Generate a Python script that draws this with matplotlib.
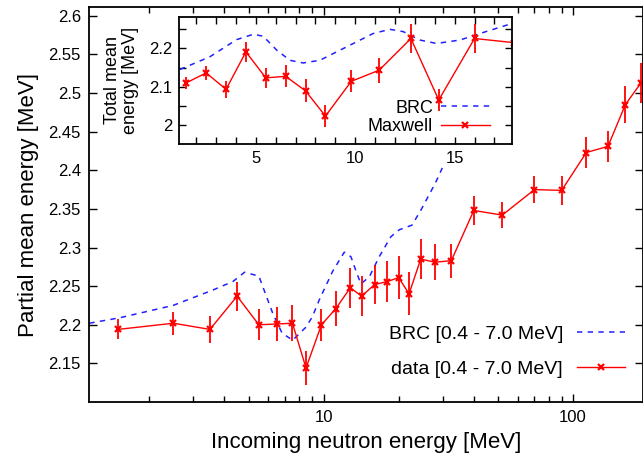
import numpy as np
import matplotlib.pyplot as plt
from matplotlib.lines import Line2D
from matplotlib.ticker import MultipleLocator, FixedLocator, NullFormatter

plt.rcParams['font.family'] = ['Liberation Sans', 'DejaVu Sans']

# measured points: incoming neutron energy [MeV]
energy = [1.5, 2.5, 3.5, 4.5, 5.5, 6.5, 7.5, 8.5, 9.8, 11.2, 12.8, 14.2, 16.0,
          18.0, 20.0, 22.0, 24.5, 28.0, 32.5, 40.0, 52.0, 70.0, 90.0, 113.0,
          138.0, 162.0, 187.0]
# partial mean energy [0.4 - 7.0 MeV]
partial_mean = [2.194, 2.202, 2.194, 2.237, 2.200, 2.201, 2.202, 2.144, 2.200,
                2.221, 2.248, 2.237, 2.252, 2.256, 2.261, 2.240, 2.285, 2.281,
                2.283, 2.348, 2.342, 2.375, 2.374, 2.423, 2.431, 2.485, 2.513]
partial_err = [0.013, 0.015, 0.017, 0.019, 0.020, 0.022, 0.023, 0.022, 0.021,
               0.023, 0.026, 0.026, 0.025, 0.027, 0.028, 0.028, 0.026, 0.023,
               0.022, 0.019, 0.017, 0.017, 0.019, 0.020, 0.020, 0.024, 0.026]

# BRC evaluation, partial mean energy
brc_energy = [1.15, 1.52, 2.49, 3.6, 4.33, 4.82, 5.5, 6.25, 6.82, 7.52, 8.5,
              9.0, 9.6, 10.86, 12.1, 12.87, 13.4, 14.1, 15.25, 16.7, 18.6,
              20.1, 22.6, 24.5, 28.0, 29.9]
brc_partial = [2.202, 2.209, 2.225, 2.245, 2.256, 2.268, 2.263, 2.215, 2.189,
               2.180, 2.197, 2.210, 2.232, 2.269, 2.294, 2.288, 2.272, 2.253,
               2.262, 2.288, 2.314, 2.323, 2.329, 2.348, 2.383, 2.403]

# inset: total mean energy (Maxwell fit)
total_energy = energy[:14]
total_mean = [2.110, 2.136, 2.093, 2.191, 2.123, 2.127, 2.089, 2.023, 2.114,
              2.143, 2.226, 2.065, 2.226, 2.215]
total_err = [0.016, 0.019, 0.023, 0.027, 0.027, 0.029, 0.030, 0.029, 0.029,
             0.033, 0.037, 0.029, 0.038, 0.035]

# BRC evaluation, total mean energy
brc_total_energy = [1.18, 2.68, 4.03, 4.87, 5.37, 6.04, 6.71, 7.38, 8.22, 9.56,
                    10.9, 11.74, 12.41, 13.25, 14.09, 15.27, 16.27, 17.87]
brc_total = [2.145, 2.178, 2.223, 2.237, 2.232, 2.196, 2.169, 2.162, 2.169,
             2.204, 2.239, 2.250, 2.244, 2.222, 2.213, 2.222, 2.239, 2.265]

red = '#ff0000'
blue = '#2020ff'

fig = plt.figure(figsize=(6.43, 4.59), dpi=100)
ax = fig.add_axes([0.1389, 0.1242, 0.8605, 0.8598])

ax.plot(brc_energy, brc_partial, color=blue, linewidth=1.1, dashes=(3.5, 3.5))
ax.errorbar(energy, partial_mean, yerr=partial_err, color=red, linewidth=1.0,
            elinewidth=1.3, marker='x', markersize=5, markeredgewidth=1.6,
            capsize=0)

ax.set_xscale('log')
ax.set_xlim(1.15, 190)
ax.set_ylim(2.1, 2.611)
ax.xaxis.set_major_locator(FixedLocator([10, 100]))
ax.xaxis.set_minor_locator(FixedLocator([2, 3, 4, 5, 6, 7, 8, 9, 20, 30, 40,
                                         50, 60, 70, 80, 90, 200]))
ax.xaxis.set_minor_formatter(NullFormatter())
ax.set_xticklabels(['10', '100'])
ax.set_yticks(np.arange(2.15, 2.601, 0.05))
ax.set_yticklabels(['2.15', '2.2', '2.25', '2.3', '2.35', '2.4', '2.45',
                    '2.5', '2.55', '2.6'])
ax.tick_params(which='both', direction='in', top=True, right=True,
               labelsize=12, width=1.0, pad=6)
ax.tick_params(which='major', length=6)
ax.tick_params(which='minor', length=4)
for s in ax.spines.values():
    s.set_linewidth(1.3)
ax.set_xlabel('Incoming neutron energy [MeV]', fontsize=16, labelpad=5)
ax.set_ylabel('Partial mean energy [MeV]', fontsize=16, labelpad=7)

h1 = [Line2D([], [], color=blue, linewidth=1.1, dashes=(3.5, 3.5)),
      Line2D([], [], color=red, linewidth=1.0, marker='x', markersize=5,
             markeredgewidth=1.6)]
ax.legend(h1, ['BRC [0.4 - 7.0 MeV]', 'data [0.4 - 7.0 MeV]'],
          loc='lower right', bbox_to_anchor=(1.0, 0.017), frameon=False,
          markerfirst=False, fontsize=14, handlelength=2.5,
          handletextpad=0.7, labelspacing=0.9)

# inset
axi = fig.add_axes([0.2789, 0.6863, 0.5169, 0.2773])
axi.plot(brc_total_energy, brc_total, color=blue, linewidth=1.1,
         dashes=(3.5, 3.5))
axi.errorbar(total_energy, total_mean, yerr=total_err, color=red,
             linewidth=1.0, elinewidth=1.3, marker='x', markersize=5,
             markeredgewidth=1.6, capsize=0)
axi.set_xlim(1.15, 17.87)
axi.set_ylim(1.95, 2.283)
axi.xaxis.set_major_locator(MultipleLocator(5))
axi.xaxis.set_minor_locator(MultipleLocator(1))
axi.yaxis.set_major_locator(FixedLocator([2.0, 2.1, 2.2]))
axi.yaxis.set_minor_locator(FixedLocator([2.05, 2.15, 2.25]))
axi.set_yticklabels(['2', '2.1', '2.2'])
axi.tick_params(which='both', direction='in', top=True, right=True,
                labelsize=12, width=1.0, pad=5)
axi.tick_params(which='major', length=5)
axi.tick_params(which='minor', length=5)
for s in axi.spines.values():
    s.set_linewidth(1.3)
axi.set_ylabel('Total mean\nenergy [MeV]', fontsize=13, labelpad=7,
               linespacing=1.1)

h2 = [Line2D([], [], color=blue, linewidth=1.1, dashes=(3.5, 3.5)),
      Line2D([], [], color=red, linewidth=1.0, marker='x', markersize=5,
             markeredgewidth=1.6)]
axi.legend(h2, ['BRC', 'Maxwell'], loc='lower right',
           bbox_to_anchor=(0.983, -0.06), frameon=False, markerfirst=False,
           fontsize=13, handlelength=2.7, handletextpad=0.45,
           labelspacing=0.1)

fig.savefig('out.png', dpi=100)
